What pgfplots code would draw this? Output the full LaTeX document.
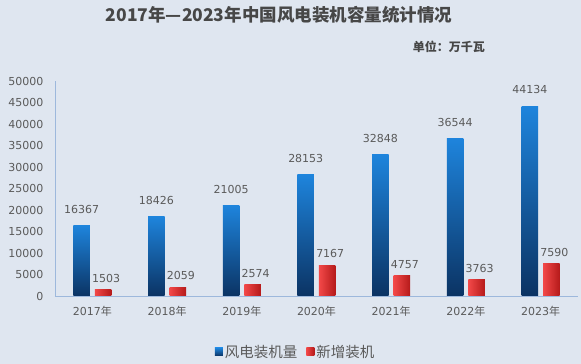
\documentclass[border=0pt]{standalone}
\usepackage{fontspec}
\setmainfont{DejaVu Sans}
\newfontfamily\cjk{Noto Sans CJK SC}
\usepackage{pgfplots}
\pgfplotsset{compat=1.18}
\definecolor{bg}{HTML}{DFE6F0}
\definecolor{txt}{HTML}{5A5A5A}
\definecolor{axl}{HTML}{9DB8DC}
\definecolor{btop}{HTML}{1E84DC}
\definecolor{bbot}{HTML}{0B3363}
\definecolor{rl}{HTML}{F24848}
\definecolor{rr}{HTML}{B51A1A}
\newcommand\nian{{\cjk 年}}
\pgfplotsset{
  bluebar/.style={draw=none, top color=btop, bottom color=bbot, bar shift=-10.75pt},
  redbar/.style={draw=none, left color=rl, right color=rr, bar shift=10.75pt},
}
\begin{document}
\begin{tikzpicture}[x=1pt,y=1pt]
\fill[bg] (0,0) rectangle (581,364);
\useasboundingbox (0,0) rectangle (581,364);
\node[font=\cjk\bfseries\fontsize{17.5}{19}\selectfont, text=black!72] at (279,349) {2017年—2023年中国风电装机容量统计情况};
\node[font=\cjk\bfseries\fontsize{12}{13}\selectfont, text=black!72, anchor=east, inner sep=0pt] at (485,317) {单位：万千瓦};
\begin{axis}[
  at={(55pt,68pt)}, anchor=south west,
  scale only axis, width=523pt, height=215pt,
  ybar=5pt, bar width=16.5pt,
  xmin=-0.5, xmax=6.5, ymin=0, ymax=50000,
  xtick={0,...,6},
  xticklabels={2017\nian,2018\nian,2019\nian,2020\nian,2021\nian,2022\nian,2023\nian},
  ytick={0,5000,...,50000},
  scaled y ticks=false,
  /pgf/number format/1000 sep={},
  /pgf/number format/assume math mode=true,
  axis lines*=left,
  axis line style={axl, line width=0.8pt},
  major tick length=0pt,
  tick label style={font=\fontsize{11}{12}\selectfont, text=txt},
  yticklabel style={xshift=-8pt},
  xticklabel style={yshift=-7pt},
  legend style={at={(0.46,-0.26)}, anchor=center, legend columns=2, draw=none, fill=none,
    font=\cjk\fontsize{14.5}{15}\selectfont, text=txt,
    /tikz/every even column/.append style={column sep=7pt}},
  legend image code/.code={\path[#1] (0pt,-4pt) rectangle (8pt,4pt);},
  clip=false,
]
\addplot[bluebar] coordinates {(0,16367)};
\addplot[redbar] coordinates {(0,1503)};
\addplot[bluebar, forget plot] coordinates {(1,18426)};
\addplot[bluebar, forget plot] coordinates {(2,21005)};
\addplot[bluebar, forget plot] coordinates {(3,28153)};
\addplot[bluebar, forget plot] coordinates {(4,32848)};
\addplot[bluebar, forget plot] coordinates {(5,36544)};
\addplot[bluebar, forget plot] coordinates {(6,44134)};
\addplot[redbar, forget plot] coordinates {(1,2059)};
\addplot[redbar, forget plot] coordinates {(2,2574)};
\addplot[redbar, forget plot] coordinates {(3,7167)};
\addplot[redbar, forget plot] coordinates {(4,4757)};
\addplot[redbar, forget plot] coordinates {(5,3763)};
\addplot[redbar, forget plot] coordinates {(6,7590)};
% value labels
\addplot[draw=none, fill=none, forget plot, bar shift=-10.75pt, nodes near coords,
  nodes near coords style={font=\fontsize{11}{12}\selectfont, text=txt, inner sep=0pt, anchor=south, yshift=12pt}]
  coordinates {(0,16367) (1,18426) (2,21005) (3,28153) (4,32848) (5,36544) (6,44134)};
\addplot[draw=none, fill=none, forget plot, bar shift=10.75pt, nodes near coords,
  nodes near coords style={font=\fontsize{11}{12}\selectfont, text=txt, inner sep=0pt, anchor=south, yshift=7pt, xshift=3pt}]
  coordinates {(0,1503) (1,2059) (2,2574) (3,7167) (4,4757) (5,3763) (6,7590)};
\legend{风电装机量,新增装机}
\end{axis}
\end{tikzpicture}
\end{document}
